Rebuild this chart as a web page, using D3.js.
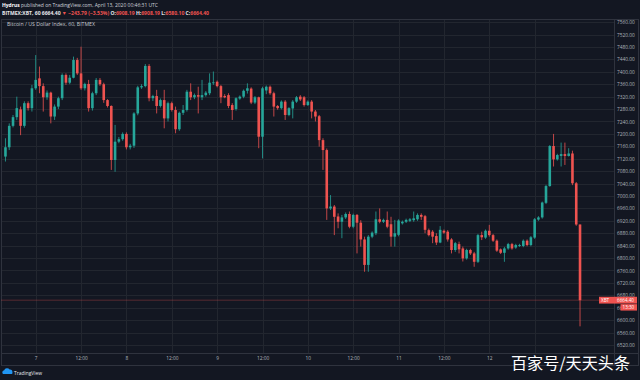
<!DOCTYPE html>
<html><head><meta charset="utf-8">
<script src="https://cdn.jsdelivr.net/npm/d3@7"></script>
<style>html,body{margin:0;padding:0;background:#131722;} svg{display:block}</style>
</head><body>
<svg id="c" width="640" height="380"></svg>
<script>
// ---- data (hourly BITMEX:XBT candles) ----
const startTime = "2020-04-06T16:00:00Z";
const openV = [
7127,7157,7226,7254,7279,7226,7299,7283,7347,7379,
7354,7318,7333,7256,7288,7315,7390,7365,7381,7438,
7395,7347,7361,7283,7331,7374,7360,7309,7290,7116,
7175,7183,7200,7157,7162,7266,7350,7354,7419,7315,
7322,7290,7309,7250,7299,7277,7215,7268,7277,7336,
7318,7325,7318,7325,7331,7365,7368,7354,7322,7325,
7293,7280,7314,7320,7339,7346,7301,7318,7191,7340,
7352,7331,7290,7283,7304,7261,7282,7304,7320,7318,
7293,7304,7272,7257,7180,7148,6960,6966,6934,6917,
6931,6942,6901,6939,6914,6860,6778,6869,6880,6925,
6917,6923,6909,6869,6875,6912,6917,6920,6922,6925,
6939,6935,6890,6885,6871,6850,6888,6885,6860,6826,
6845,6831,6799,6826,6815,6788,6874,6866,6888,6874,
6856,6828,6817,6831,6845,6834,6839,6839,6856,6842,
6866,6924,6931,6978,7032,7161,7118,7129,7135,7129,
7137,7041,6908.19];
const highV = [
7186,7234,7261,7320,7288,7305,7305,7358,7454,7417,
7363,7340,7336,7295,7320,7395,7395,7390,7449,7445,
7481,7365,7374,7336,7380,7380,7365,7312,7292,7229,
7190,7205,7205,7168,7270,7355,7360,7425,7425,7326,
7342,7314,7342,7304,7304,7288,7272,7293,7342,7363,
7330,7352,7374,7338,7395,7401,7372,7358,7328,7331,
7299,7318,7324,7343,7363,7350,7322,7320,7352,7356,
7356,7336,7293,7308,7309,7286,7309,7322,7325,7322,
7308,7309,7277,7261,7186,7153,7003,6971,6944,6939,
6947,6950,6943,6942,6922,6869,6874,6886,6950,6960,
6927,6950,6933,6923,6925,6921,6927,6929,6950,6944,
6944,6939,6895,6890,6880,6903,6892,6890,6864,6852,
6853,6837,6830,6830,6820,6878,6885,6892,6907,6878,
6860,6831,6836,6849,6849,6846,6846,6860,6860,6871,
6929,6935,6982,7036,7164,7200,7136,7172,7172,7154,
7146,7045,6908.19];
const lowV = [
7111,7148,7221,7245,7196,7220,7275,7272,7342,7331,
7272,7310,7234,7245,7280,7309,7358,7360,7379,7390,
7342,7340,7272,7275,7325,7355,7300,7285,7084,7078,
7170,7178,7150,7150,7155,7260,7345,7350,7305,7306,
7266,7285,7218,7240,7272,7202,7210,7261,7272,7309,
7312,7266,7309,7320,7325,7358,7350,7299,7315,7283,
7245,7275,7310,7315,7330,7296,7296,7154,7121,7328,
7326,7256,7278,7279,7245,7257,7250,7300,7306,7288,
7290,7250,7240,7159,7084,6923,6955,6874,6896,6864,
6926,6896,6896,6815,6837,6756,6756,6864,6874,6912,
6913,6896,6837,6837,6870,6908,6913,6916,6917,6920,
6923,6880,6870,6848,6842,6848,6878,6853,6815,6820,
6815,6789,6795,6810,6772,6784,6858,6862,6869,6852,
6820,6813,6788,6827,6827,6830,6836,6835,6838,6838,
6862,6920,6927,6974,7030,7095,7114,7095,7100,7127,
7035,6904,6580.10];
const closeV = [
7157,7226,7254,7283,7226,7299,7283,7347,7374,7354,
7318,7333,7256,7288,7315,7390,7365,7381,7438,7395,
7347,7361,7283,7331,7374,7360,7309,7290,7116,7175,
7183,7200,7157,7162,7266,7350,7354,7419,7315,7322,
7290,7309,7250,7299,7277,7215,7268,7277,7336,7318,
7325,7320,7325,7333,7365,7366,7354,7318,7318,7290,
7277,7315,7320,7339,7347,7301,7318,7191,7347,7352,
7331,7288,7283,7304,7261,7283,7304,7318,7311,7293,
7304,7272,7256,7180,7148,6960,6966,6933,6917,6931,
6942,6901,6939,6914,6860,6778,6869,6882,6925,6917,
6923,6901,6869,6880,6921,6917,6923,6925,6928,6939,
6933,6891,6874,6869,6850,6891,6882,6860,6826,6848,
6828,6799,6826,6815,6788,6874,6867,6888,6874,6856,
6824,6817,6831,6845,6831,6842,6842,6856,6842,6867,
6925,6931,6979,7032,7161,7118,7132,7135,7129,7137,
7041,6908.19,6664.40];
const xTickTimes = ["2020-04-07T00:00:00Z","2020-04-07T12:00:00Z","2020-04-08T00:00:00Z","2020-04-08T12:00:00Z",
  "2020-04-09T00:00:00Z","2020-04-09T12:00:00Z","2020-04-10T00:00:00Z","2020-04-10T12:00:00Z",
  "2020-04-11T00:00:00Z","2020-04-11T12:00:00Z","2020-04-12T00:00:00Z","2020-04-12T12:00:00Z"];
// the last 12:00 label sits under the watermark in the reference
const xTickLabels = ["7","12:00","8","12:00","9","12:00","10","12:00","11","12:00","12"];
const yTickValues = [6520,6560,6600,6640,6680,6720,6760,6800,6840,6880,6920,6960,7000,7040,7080,7120,7160,7200,7240,7280,7320,7360,7400,7440,7480,7520,7560];
const lastPrice = 6664.40;

// ---- drawing ----
const GREEN = "#26a69a", RED = "#ef5350", BG = "#131722", GRID = "#22262f", LINE = "#2f333e", TXT = "#b2b5be";
const FONT = "'Open Sans', 'Noto Sans', sans-serif";
const svg = d3.select("#c");
svg.append("rect").attr("width", 640).attr("height", 380).attr("fill", BG);

const pLeft = 1, pRight = 614, pTop = 19, pBottom = 353;
const x = d3.scaleUtc()
  .domain([new Date("2020-04-07T00:00:00Z"), new Date("2020-04-12T00:00:00Z")])
  .range([35.7, 489.3]);
const y = d3.scaleLinear().domain([6494.2, 7570.2]).range([pBottom, pTop]);

const t0 = new Date(startTime).getTime();
const candles = openV.map((o, i) => ({
  t: new Date(t0 + i * 3600e3), o, h: highV[i], l: lowV[i], c: closeV[i]
}));
const tickDates = xTickTimes.map(s => new Date(s));

// grid
const grid = svg.append("g");
grid.selectAll(".hg").data(yTickValues).join("line")
  .attr("x1", pLeft).attr("x2", pRight)
  .attr("y1", d => Math.round(y(d)) + 0.5).attr("y2", d => Math.round(y(d)) + 0.5)
  .attr("stroke", GRID).attr("stroke-width", 1);
grid.selectAll(".vg").data(tickDates).join("line")
  .attr("x1", d => Math.round(x(d)) + 0.5).attr("x2", d => Math.round(x(d)) + 0.5)
  .attr("y1", pTop).attr("y2", pBottom)
  .attr("stroke", GRID).attr("stroke-width", 1);

// frame
const frame = svg.append("g").attr("stroke", LINE).attr("fill", "none");
frame.append("rect").attr("x", pLeft + 0.5).attr("y", pTop + 0.5).attr("width", 638 - pLeft).attr("height", 365 - pTop);
frame.append("line").attr("x1", pRight + 0.5).attr("x2", pRight + 0.5).attr("y1", pTop).attr("y2", 365);
frame.append("line").attr("x1", pLeft).attr("x2", 639).attr("y1", pBottom + 0.5).attr("y2", pBottom + 0.5);

// price line
svg.append("line").attr("x1", pLeft).attr("x2", pRight)
  .attr("y1", y(lastPrice)).attr("y2", y(lastPrice))
  .attr("stroke", RED).attr("stroke-opacity", 0.45).attr("stroke-width", 0.7);

// candles
const cg = svg.append("g");
const bw = 2.6;
cg.selectAll(".wick").data(candles).join("line")
  .attr("x1", d => x(d.t)).attr("x2", d => x(d.t))
  .attr("y1", d => y(d.h)).attr("y2", d => y(d.l))
  .attr("stroke", d => d.c >= d.o ? GREEN : RED).attr("stroke-width", 0.8);
cg.selectAll(".body").data(candles).join("rect")
  .attr("x", d => x(d.t) - bw / 2).attr("width", bw)
  .attr("y", d => y(Math.max(d.o, d.c)))
  .attr("height", d => Math.max(0.8, Math.abs(y(d.o) - y(d.c))))
  .attr("fill", d => d.c >= d.o ? GREEN : RED);

// y axis
const yAxis = svg.append("g").attr("transform", `translate(${pRight},0)`)
  .call(d3.axisRight(y).tickValues(yTickValues).tickFormat(d3.format(".2f")).tickSize(0).tickPadding(3));
yAxis.select(".domain").remove();
yAxis.selectAll("text").attr("fill", TXT).attr("font-size", 4.8).attr("font-family", FONT);

// x axis
const xAxis = svg.append("g").attr("transform", `translate(0,${pBottom})`)
  .call(d3.axisBottom(x).tickValues(tickDates.slice(0, xTickLabels.length))
    .tickFormat((d, i) => xTickLabels[i]).tickSize(0).tickPadding(4));
xAxis.select(".domain").remove();
xAxis.selectAll("text").attr("fill", TXT).attr("font-size", 4.8).attr("font-family", FONT);

// last price labels
const lp = y(lastPrice);
svg.append("rect").attr("x", 599).attr("y", lp - 3.4).attr("width", 38).attr("height", 6.8).attr("fill", RED);
svg.append("text").attr("x", 601).attr("y", lp + 1.7).text("XBT")
  .attr("fill", "#fff").attr("font-size", 4.6).attr("font-family", FONT);
svg.append("text").attr("x", 617).attr("y", lp + 1.7).text(d3.format(".2f")(lastPrice))
  .attr("fill", "#fff").attr("font-size", 4.6).attr("font-family", FONT);
svg.append("rect").attr("x", 620.5).attr("y", lp + 4).attr("width", 16.5).attr("height", 6.4).attr("fill", RED);
svg.append("text").attr("x", 622.5).attr("y", lp + 8.9).text("13:30")
  .attr("fill", "#fff").attr("font-size", 4.6).attr("font-family", FONT);

// header
const h1 = svg.append("text").attr("x", 2).attr("y", 7).attr("font-size", 5.2).attr("font-family", FONT)
  .attr("textLength", 156).attr("lengthAdjust", "spacingAndGlyphs");
h1.append("tspan").text("Hydrus").attr("fill", "#fff").attr("font-weight", "bold");
h1.append("tspan").text(" published on TradingView.com, April 13, 2020 00:46:31 UTC").attr("fill", "#d1d4dc");

const h2 = svg.append("text").attr("x", 2).attr("y", 14.6).attr("font-size", 5.2).attr("font-family", FONT)
  .attr("textLength", 207).attr("lengthAdjust", "spacingAndGlyphs").attr("font-weight", "bold");
const seg = [["BITMEX:XBT, 60 ", "#e8e8ec"], ["6664.40 ", "#e8e8ec"], ["▼ −243.79 (−3.53%) ", RED],
  ["O:", "#e8e8ec"], ["6908.19 ", RED], ["H:", "#e8e8ec"], ["6908.19 ", RED],
  ["L:", "#e8e8ec"], ["6580.10 ", RED], ["C:", "#e8e8ec"], ["6664.40", RED]];
seg.forEach(s => h2.append("tspan").text(s[0]).attr("fill", s[1]));

svg.append("text").attr("x", 7).attr("y", 26.3).text("Bitcoin / US Dollar Index, 60, BITMEX")
  .attr("fill", "#c5c8d0").attr("font-size", 5.2).attr("font-family", FONT)
  .attr("textLength", 88).attr("lengthAdjust", "spacingAndGlyphs");

// TradingView logo
const logo = svg.append("g").attr("transform", "translate(2,368)");
logo.append("path").attr("d", "M1,6 a2.2,2.2 0 0 1 1.2,-3.8 a3,3 0 0 1 5.4,-0.6 a2.2,2.2 0 0 1 2.8,2.4 a1.6,1.6 0 0 1 -0.6,2 z")
  .attr("fill", "#2196f3");
svg.append("text").attr("x", 14).attr("y", 374.5).text("TradingView")
  .attr("fill", "#e8e8ec").attr("font-size", 5.4).attr("font-family", FONT)
  .attr("textLength", 28).attr("lengthAdjust", "spacingAndGlyphs");

// watermark
svg.append("text").attr("x", 511).attr("y", 369).text("百家号/天天头条")
  .attr("fill", "#ffffff").attr("font-size", 16).attr("font-family", "'Noto Sans CJK SC', sans-serif")
  .attr("textLength", 119).attr("lengthAdjust", "spacingAndGlyphs");
</script>
</body></html>
